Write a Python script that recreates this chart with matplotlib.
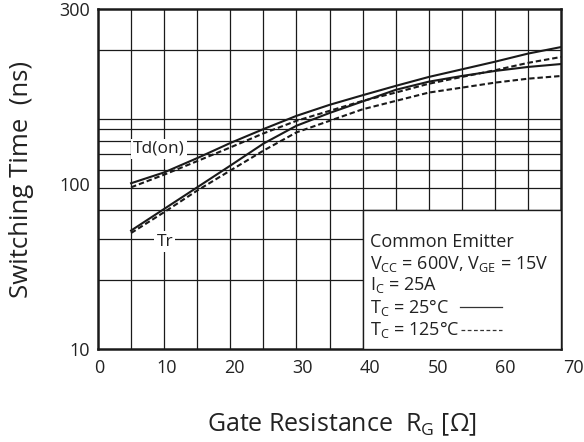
import numpy as np
import matplotlib
matplotlib.use("Agg")
import matplotlib.pyplot as plt
from matplotlib.patches import Rectangle
from matplotlib.ticker import FixedLocator, NullLocator, NullFormatter

# ---------------- data ----------------
rg = [5, 10, 15, 20, 25, 30, 35, 40, 45, 50, 55, 60, 65, 70]
td_on_25c = [52.5, 58.5, 67.5, 78.5, 90.2, 103, 115, 126.6, 139, 152, 164, 177, 192, 205]
td_on_125c = [50.4, 57.2, 65.5, 75.1, 86.4, 98.0, 108.3, 119.6, 130, 142, 152, 162.5, 175, 185.6]
tr_25c = [32.7, 40.6, 50.4, 62.6, 78.0, 93.3, 106, 119, 133.6, 145, 153.5, 161.4, 168, 173]
tr_125c = [31.9, 39.3, 48.8, 59.6, 72.7, 87.3, 98.0, 110, 119.6, 130, 136.6, 143.6, 149.4, 153.5]

x_tick_values = [0, 10, 20, 30, 40, 50, 60, 70]
x_tick_labels = ["0", "10", "20", "30", "40", "50", "60", "70"]
x_grid_values = [5, 10, 15, 20, 25, 30, 35, 40, 45, 50, 55, 60, 65]
y_grid_values = [20, 30, 40, 50, 60, 70, 80, 90, 100, 200]
y_tick_values = [10, 52.3, 300]
y_tick_labels = ["10", "100", "300"]

legend_lines = [
    "Common Emitter",
    r"V$_\mathregular{CC}$ = 600V, V$_\mathregular{GE}$ = 15V",
    r"I$_\mathregular{C}$ = 25A",
    r"T$_\mathregular{C}$ = 25°C",
    r"T$_\mathregular{C}$ = 125°C",
]

# ---------------- style ----------------
plt.rcParams["font.family"] = ["Open Sans", "DejaVu Sans"]
plt.rcParams["mathtext.fontset"] = "custom"
plt.rcParams["mathtext.rm"] = "Open Sans"
plt.rcParams["text.color"] = "#222222"

W, H = 584, 442
fig = plt.figure(figsize=(W / 100, H / 100), dpi=100)
ax = fig.add_axes([98 / W, 1 - 349 / H, 463 / W, 340 / H])
ax.set_yscale("log")
ax.set_xlim(0, 70)
ax.set_ylim(10, 300)

# grid
ax.xaxis.set_major_locator(FixedLocator(x_grid_values))
ax.xaxis.set_minor_locator(NullLocator())
ax.yaxis.set_major_locator(FixedLocator(y_tick_values))
ax.yaxis.set_minor_locator(FixedLocator(y_grid_values))
ax.yaxis.set_minor_formatter(NullFormatter())
ax.set_yticklabels(y_tick_labels)
ax.set_xticklabels([])
ax.grid(True, axis="x", which="major", color="#1a1a1a", lw=0.9)
ax.grid(True, axis="y", which="minor", color="#1a1a1a", lw=0.9)
ax.grid(False, axis="y", which="major")
ax.tick_params(axis="both", which="both", length=0)
ax.tick_params(axis="y", labelsize=13, pad=6, labelcolor="#222222")
for s in ax.spines.values():
    s.set_linewidth(1.8)
    s.set_color("#1a1a1a")

# curves
lw = 1.5
dash = (2.6, 1.4)
ax.plot(rg, td_on_25c, color="#1a1a1a", lw=lw, zorder=3)
ax.plot(rg, td_on_125c, color="#1a1a1a", lw=lw, dashes=dash, zorder=3)
ax.plot(rg, tr_25c, color="#1a1a1a", lw=lw, zorder=3)
ax.plot(rg, tr_125c, color="#1a1a1a", lw=lw, dashes=dash, zorder=3)

# curve labels
bb = dict(facecolor="white", edgecolor="none", pad=1.5)
ax.text(5.3, 74, "Td(on)", fontsize=12.5, ha="left", va="center", bbox=bb, zorder=4)
ax.text(10.1, 29.3, "Tr", fontsize=12.5, ha="center", va="center", bbox=bb, zorder=4)

# condition box
ax.add_patch(Rectangle((40, 10), 30, 30, facecolor="white", edgecolor="#1a1a1a",
                       lw=1.0, zorder=4))
ys = [0.315, 0.250, 0.188, 0.121, 0.056]
for t, y in zip(legend_lines, ys):
    ax.text(0.587, y, t, transform=ax.transAxes, fontsize=13, ha="left",
            va="center", zorder=5)
# line-style samples next to the temperature lines
ax.plot([0.782, 0.872], [0.124, 0.124], transform=ax.transAxes, color="#333333",
        lw=0.9, zorder=5)
ax.plot([0.785, 0.872], [0.056, 0.056], transform=ax.transAxes, color="#333333",
        lw=0.9, dashes=(3.0, 2.0), zorder=5)

# x tick labels (reference labels are spaced slightly wider than the grid)
lab = fig.add_axes([99 / W, 1 - 349 / H, (573 - 99) / W, 340 / H], frameon=False)
lab.set_xlim(0, 70)
lab.set_xticks(x_tick_values)
lab.set_xticklabels(x_tick_labels)
lab.set_yticks([])
lab.tick_params(axis="x", length=0, labelsize=13, pad=7, labelcolor="#222222")
lab.patch.set_alpha(0)
lab.set_zorder(-1)

ax.set_xlabel(r"Gate Resistance  R$_\mathregular{G}$ [Ω]", fontsize=18, color="#222222")
ax.xaxis.set_label_coords(0.527, -0.185)
ax.set_ylabel("Switching Time  (ns)", fontsize=18.5, color="#222222")
ax.yaxis.set_label_coords(-0.138, 0.5)

fig.savefig("out.png", dpi=100)
